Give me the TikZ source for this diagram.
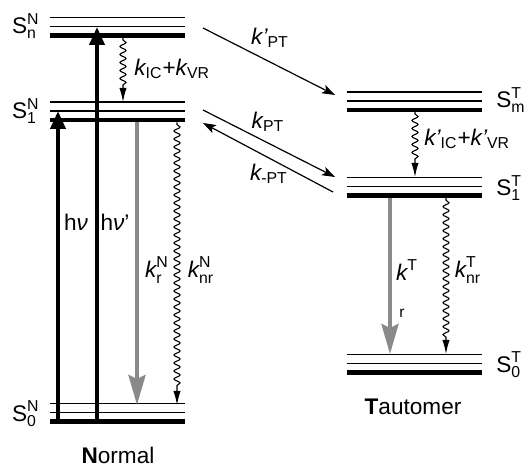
\documentclass[tikz,border=0pt]{standalone}
\usepackage{amsmath}
\usepackage{fontspec}
\setmainfont{Liberation Sans}
\usetikzlibrary{arrows.meta,decorations.pathmorphing}
\definecolor{ink}{HTML}{000000}
\definecolor{rad}{HTML}{8A8A8A}

\begin{document}
\begin{tikzpicture}[x=0.5pt,y=-0.5pt,
  font=\fontsize{11.3}{13}\selectfont, text=ink,
  lvl/.style={line width=0.6pt, draw=ink},
  lvlbase/.style={line width=2.4pt, draw=ink},
  absorb/.style={-{Triangle[length=9pt,width=7.5pt]}, line width=2pt, draw=ink},
  emit/.style={-{Stealth[length=15pt,width=8.5pt,inset=2pt]}, line width=2pt, draw=rad},
  relax/.style={-{Latex[length=7pt,width=3.6pt]}, line width=0.55pt, draw=ink,
                decorate, decoration={snake, amplitude=1.5pt, segment length=4pt,
                pre length=1pt, post length=8pt}},
  transfer/.style={-{Stealth[length=6.5pt,width=4.5pt,inset=1.5pt]}, line width=0.6pt, draw=ink},
  state/.style={inner sep=0pt},
  rate/.style={inner sep=0pt}]

\path[use as bounding box] (0,0) rectangle (527,466);

% ------------------------------------------------------------------ levels
% three lines per state: two thin, one thick (base)
\foreach \x/\y in {50/35.7, 50/120, 50/421.7, 346.7/110, 346.7/195.7, 346.7/372.7} {
  \draw[lvl] (\x,\y-18) -- +(135,0);
  \draw[lvl] (\x,\y-9) -- +(135,0);
  \draw[lvlbase] (\x,\y) -- +(135,0);
}

\node[state, anchor=east] (SnN) at (40,26) {$\text{S}^{\text{N}}_{\text{n}}$};
\node[state, anchor=east] (S1N) at (40,111) {$\text{S}^{\text{N}}_{\text{1}}$};
\node[state, anchor=east] (S0N) at (40,414) {$\text{S}^{\text{N}}_{\text{0}}$};
\node[state, anchor=west] (SmT) at (496,100) {$\text{S}^{\text{T}}_{\text{m}}$};
\node[state, anchor=west] (S1T) at (496,188) {$\text{S}^{\text{T}}_{\text{1}}$};
\node[state, anchor=west] (S0T) at (496,365) {$\text{S}^{\text{T}}_{\text{0}}$};

% ------------------------------------------------------------- normal form
\coordinate (hv-a) at (58,421.7);   \coordinate (hv-b) at (58,111);
\coordinate (hvp-a) at (97,421.7);  \coordinate (hvp-b) at (97,27);
\coordinate (icN-a) at (123,38);    \coordinate (icN-b) at (123,102);
\coordinate (rN-a) at (137,122.5);  \coordinate (rN-b) at (137,405);
\coordinate (nrN-a) at (177,122.5); \coordinate (nrN-b) at (177,405);

\draw[absorb] (hv-a) -- (hv-b);
\draw[absorb] (hvp-a) -- (hvp-b);
\draw[relax] (icN-a) -- (icN-b);
\draw[emit] (rN-a) -- (rN-b);
\draw[relax] (nrN-a) -- (nrN-b);

\node[rate] (hv) at (76,222) {h\textit{ν}};
\node[rate] (hvp) at (115,222) {h\textit{ν}'};
\node[rate, anchor=west] (kICVR) at (134,69) {$\textit{k}_{\text{IC}}\text{+}\textit{k}_{\text{VR}}$};
\node[rate] (krN) at (157,270) {$\textit{k}^{\text{N}}_{\text{r}}$};
\node[rate] (knrN) at (201,270) {$\textit{k}^{\text{N}}_{\text{nr}}$};
\node (normal) at (118,455) {\textbf{N}ormal};

% ---------------------------------------------------------- proton transfer
\coordinate (pPT-a) at (203,28);  \coordinate (pPT-b) at (335,95);
\coordinate (PT-a) at (203,110);  \coordinate (PT-b) at (335,177);
\coordinate (mPT-a) at (333,192); \coordinate (mPT-b) at (203,123);

\draw[transfer] (pPT-a) -- (pPT-b);
\draw[transfer] (PT-a) -- (PT-b);
\draw[transfer] (mPT-a) -- (mPT-b);

\node[rate] (kpPT) at (270,38) {$\textit{k'}_{\text{PT}}$};
\node[rate] (kPT) at (268,122) {$\textit{k}_{\text{PT}}$};
\node[rate] (kmPT) at (269,174) {$\textit{k}_{\text{-PT}}$};

% ------------------------------------------------------------ tautomer form
\coordinate (icT-a) at (415,112);   \coordinate (icT-b) at (415,177);
\coordinate (rT-a) at (390,198.2);  \coordinate (rT-b) at (390,354);
\coordinate (nrT-a) at (446,198.2); \coordinate (nrT-b) at (446,354);

\draw[relax] (icT-a) -- (icT-b);
\draw[emit] (rT-a) -- (rT-b);
\draw[relax] (nrT-a) -- (nrT-b);

\node[rate, anchor=west] (kpICVR) at (424,139) {$\textit{k'}_{\text{IC}}\text{+}\textit{k'}_{\text{VR}}$};
\node[rate] (krT) at (407,270) {$\textit{k}^{\text{T}}$};
\node[rate, font=\fontsize{7.8}{9}\selectfont] (rT) at (402,313) {r};
\node[rate] (knrT) at (468,270) {$\textit{k}^{\text{T}}_{\text{nr}}$};
\node (tautomer) at (413,407) {\textbf{T}automer};
\end{tikzpicture}
\end{document}
